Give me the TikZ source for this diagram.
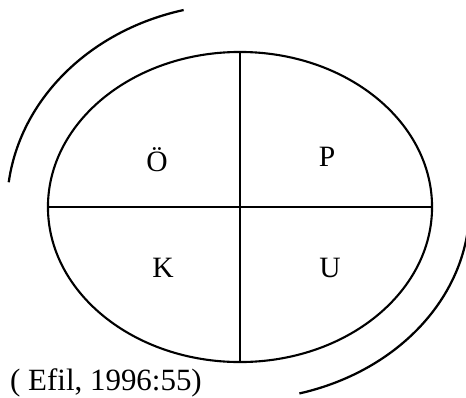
\documentclass[tikz,border=0pt]{standalone}
\usepackage{fontspec}
\setmainfont{Liberation Serif}
\usepackage{tikz}
\usetikzlibrary{shapes.geometric}

\begin{document}
\begin{tikzpicture}[x=0.025cm, y=0.025cm,
            oval/.style={ellipse, draw, line width=1.5pt, minimum width=9.6cm, minimum height=7.75cm, inner sep=0pt, outer sep=0pt},
            lbl/.style={font=\fontsize{21}{24}\selectfont, inner sep=0pt},
            src/.style={font=\fontsize{22}{25}\selectfont, inner sep=0pt}]
            \useasboundingbox (-240,-190) rectangle (226,207);
            \node[oval] (E) at (0,0) {};
            \draw[line width=1.2pt] (E.north)--(E.south);
            \draw[line width=1.2pt] (E.west)--(E.east);
            \node[lbl] (O) at (-83,47) {Ö};
            \node[lbl] (P) at (87,50) {P};
            \node[lbl] (K) at (-77,-61) {K};
            \node[lbl] (U) at (90,-61) {U};
            % outer arcs
            \draw[line width=1.6pt] (104:233 and 203) arc[start angle=104, end angle=173, x radius=233, y radius=203];
            \draw[line width=1.6pt] (-75:229.5 and 193) arc[start angle=-75, end angle=-8, x radius=229.5, y radius=193];
            \node[src] (S) at (-134,-176) {( Efil, 1996:55)};
        \end{tikzpicture}
\end{document}
